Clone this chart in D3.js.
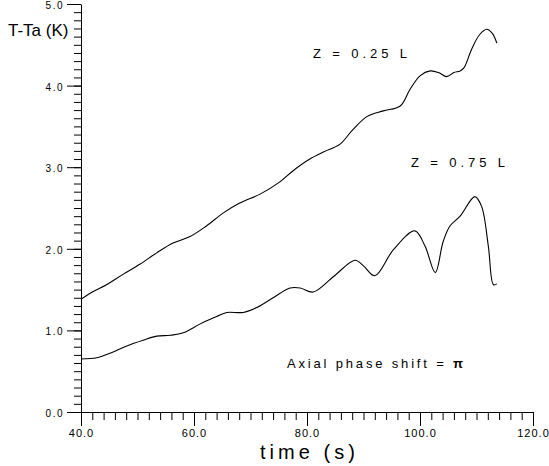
<!DOCTYPE html>
<html>
<head>
<meta charset="utf-8">
<script src="https://cdn.jsdelivr.net/npm/d3@7"></script>
<style>
  body { margin: 0; background: #fff; }
  text { font-family: "Liberation Sans", Arial, sans-serif; fill: #000; }
</style>
</head>
<body>
<div id="chart-area"></div>
<script>

// Z = 0.25 L
var timeUpper = [40, 42, 44.5, 47.5, 50.4, 53.4, 56.3, 59.3, 62.2, 65.2, 68.1, 71.7, 75.2, 77.6, 80.5, 83, 85.8, 88, 90.6, 93.5, 96.5, 98.2, 100, 101.8, 103.3, 104.7, 106, 107.1, 107.8, 109.1, 110.5, 111.8, 112.8, 113.6];
var tempUpper = [1.38, 1.47, 1.56, 1.69, 1.81, 1.95, 2.07, 2.15, 2.28, 2.44, 2.56, 2.67, 2.82, 2.96, 3.1, 3.19, 3.28, 3.45, 3.62, 3.69, 3.75, 3.95, 4.12, 4.18, 4.16, 4.11, 4.16, 4.18, 4.22, 4.44, 4.62, 4.69, 4.64, 4.52];

// Z = 0.75 L
var timeLower = [40, 42.8, 45.1, 48.1, 51, 53.4, 55.8, 58.1, 61.1, 64, 65.8, 68.7, 71.1, 74, 77, 78.8, 81.1, 84.7, 88.5, 90, 92, 95.3, 99.1, 100.9, 102.7, 104.1, 105.3, 107.1, 109.7, 110.9, 112.1, 113, 113.6];
var tempLower = [0.65, 0.665, 0.72, 0.81, 0.88, 0.93, 0.94, 0.97, 1.08, 1.17, 1.22, 1.22, 1.28, 1.40, 1.52, 1.52, 1.47, 1.66, 1.86, 1.79, 1.67, 1.99, 2.22, 2.03, 1.71, 2.09, 2.28, 2.40, 2.64, 2.52, 2.03, 1.56, 1.57];

var xMajor = [40, 60, 80, 100, 120];
var yMajor = [0, 1, 2, 3, 4, 5];

var svg = d3.select("#chart-area")
    .append("svg")
        .attr("width", 549)
        .attr("height", 466);

var x = d3.scaleLinear().domain([40, 120]).range([0, 452]);
var y = d3.scaleLinear().domain([0, 5]).range([412, 4]);

var g = svg.append("g").attr("transform", "translate(81,0)");

// minor ticks
g.append("g")
    .attr("transform", "translate(0,412)")
    .call(d3.axisBottom(x).tickValues(d3.range(40, 121, 2)).tickSize(8).tickSizeOuter(0).tickFormat(""))
    .call(a => a.select(".domain").remove());
g.append("g")
    .call(d3.axisLeft(y).tickValues(d3.range(0, 51).map(d => d / 10)).tickSize(7).tickSizeOuter(0).tickFormat(""))
    .call(a => a.select(".domain").remove());

// major ticks + labels
var xAxis = g.append("g")
    .attr("transform", "translate(0,412)")
    .call(d3.axisBottom(x).tickValues(xMajor).tickSize(14).tickSizeOuter(0).tickFormat(d3.format(".1f")));
xAxis.selectAll("text")
    .attr("y", 25).attr("dy", 0)
    .style("font-size", "11px").style("letter-spacing", "1px");

var yAxis = g.append("g")
    .call(d3.axisLeft(y).tickValues(yMajor).tickSize(14).tickPadding(3).tickSizeOuter(0).tickFormat(d3.format(".1f")));
yAxis.selectAll("text")
    .attr("dy", "0.45em")
    .style("font-size", "10px").style("letter-spacing", "1.5px");

g.selectAll(".domain, .tick line").attr("stroke", "#000");

// curves
var line = d3.line()
    .x(d => x(d[0]))
    .y(d => y(d[1]))
    .curve(d3.curveCatmullRom.alpha(0.5));

[[timeUpper, tempUpper], [timeLower, tempLower]].forEach(function (s) {
    g.append("path")
        .datum(d3.zip(s[0], s[1]))
        .attr("fill", "none")
        .attr("stroke", "#000")
        .attr("stroke-width", 1.1)
        .attr("d", line);
});

// labels
svg.append("text")
    .attr("x", 8).attr("y", 36)
    .style("font-size", "17px")
    .text("T-Ta (K)");

svg.append("text")
    .attr("x", 260).attr("y", 459)
    .attr("textLength", 95).attr("lengthAdjust", "spacing")
    .style("font-size", "20px")
    .text("time (s)");

svg.append("text")
    .attr("x", 313).attr("y", 58)
    .attr("textLength", 94).attr("lengthAdjust", "spacing")
    .style("font-size", "13px")
    .text("Z = 0.25 L");

svg.append("text")
    .attr("x", 411).attr("y", 167)
    .attr("textLength", 94).attr("lengthAdjust", "spacing")
    .style("font-size", "13px")
    .text("Z = 0.75 L");

var ax = svg.append("text")
    .attr("x", 287).attr("y", 368)
    .attr("textLength", 176).attr("lengthAdjust", "spacing")
    .style("font-size", "13px");
ax.append("tspan").text("Axial phase shift = ");
ax.append("tspan").style("font-weight", "bold").text("π");

</script>
</body>
</html>
